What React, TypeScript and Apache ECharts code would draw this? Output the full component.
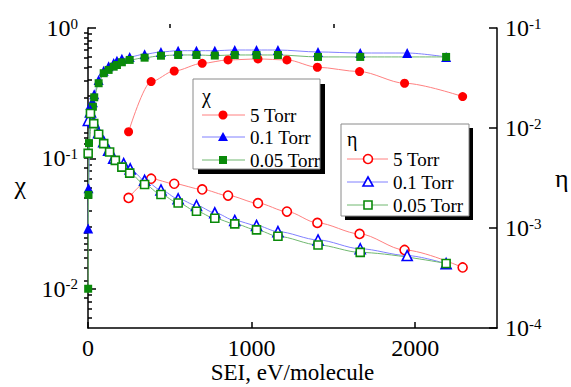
import React, { useEffect, useRef } from "react";
import * as echarts from "echarts";

// ---- data (SEI in eV/molecule) ----
const X_5TORR = [248, 386, 527, 698, 856, 1039, 1216, 1402, 1660, 1935, 2290];
const CHI_5TORR = [0.16, 0.388, 0.468, 0.536, 0.569, 0.579, 0.569, 0.5, 0.463, 0.377, 0.298];
const ETA_5TORR = [0.002, 0.00311, 0.00277, 0.00243, 0.00211, 0.00177, 0.00146, 0.001125, 0.000873, 0.000603, 0.000403];

const X_CHI_01 = [1, 3, 15, 30, 38, 65, 96, 126, 157, 177, 207, 255, 346, 446, 551, 663, 775, 897, 1030, 1161, 1406, 1664, 1951, 2189];
const CHI_01 = [0.029, 0.059, 0.257, 0.27, 0.31, 0.4, 0.47, 0.51, 0.54, 0.56, 0.58, 0.6, 0.63, 0.655, 0.67, 0.67, 0.67, 0.678, 0.678, 0.678, 0.655, 0.643, 0.643, 0.6];

const X_CHI_005 = [1, 3, 6, 30, 38, 65, 96, 126, 157, 177, 207, 255, 346, 446, 551, 663, 775, 897, 1030, 1161, 1406, 1664, 2189];
const CHI_005 = [0.01, 0.0525, 0.131, 0.249, 0.294, 0.377, 0.45, 0.477, 0.505, 0.52, 0.546, 0.569, 0.592, 0.613, 0.621, 0.621, 0.615, 0.621, 0.621, 0.621, 0.6, 0.6, 0.6];

const X_ETA_01 = [2, 15, 35, 65, 96, 126, 157, 218, 258, 346, 446, 551, 663, 775, 897, 1030, 1161, 1406, 1664, 1951, 2189];
const ETA_01 = [0.0119, 0.0145, 0.0115, 0.009, 0.0073, 0.006, 0.005, 0.0044, 0.0039, 0.003, 0.0024, 0.00196, 0.00168, 0.00142, 0.00119, 0.00106, 0.00092, 0.00076, 0.00062, 0.00053, 0.00044];

const X_ETA_005 = [1, 15, 35, 65, 96, 132, 167, 207, 255, 346, 446, 551, 663, 775, 897, 1030, 1161, 1406, 1664, 2189];
const ETA_005 = [0.00557, 0.01394, 0.01107, 0.00865, 0.00698, 0.00575, 0.00474, 0.00406, 0.00354, 0.002725, 0.002163, 0.00178, 0.00147, 0.00125, 0.0011, 0.000957, 0.000826, 0.000677, 0.00057, 0.000442];

const X_LABELS = [0, 1000, 2000];
const X_MINOR = [500, 1500];
const X_MIN = 0;
const X_MAX = 2500;
const CHI_MIN = 0.005;
const CHI_MAX = 1;
const ETA_MIN = 0.0001;
const ETA_MAX = 0.1;
const CHI_DECADES = [-2, -1, 0];
const ETA_DECADES = [-4, -3, -2, -1];

const FONT = "'Liberation Serif', 'Times New Roman', 'DejaVu Serif', serif";
const RED = "#ff0000";
const BLUE = "#0000ff";
const GREEN = "#0a8a0a";
const RED_LINE = "#ff8080";
const BLUE_LINE = "#8080ff";
const GREEN_LINE = "#70b870";

function minorTicks(min: number, max: number): number[] {
  const lo = Math.log10(min);
  const hi = Math.log10(max);
  const out: number[] = [];
  for (let d = Math.floor(lo); d < Math.ceil(hi); d++) {
    for (let k = 2; k <= 9; k++) {
      const v = d + Math.log10(k);
      if (v > lo + 1e-9 && v < hi - 1e-9) out.push(v);
    }
  }
  return out;
}

const pairs = (xs: number[], ys: number[]) => xs.map((x, i) => [x, Math.log10(ys[i])]);

export default function App() {
  const ref = useRef<HTMLDivElement>(null);
  useEffect(() => {
    document.body.style.margin = "0";
    if (!ref.current) return;
    const chart = echarts.init(ref.current, undefined, { renderer: "svg" });
    const black = { color: "#000", width: 1.5 };
    const rich = {
      b: { fontSize: 24, fontFamily: FONT, color: "#000", lineHeight: 24 },
      s: { fontSize: 15, fontFamily: FONT, color: "#000", lineHeight: 14, verticalAlign: "top" },
    };
    const powFmt = (v: number) => `{b|10}{s|${Math.round(v)}}`;

    const lineSeries = (
      name: string,
      data: number[][],
      yAxisIndex: number,
      symbol: string,
      size: number,
      color: string,
      lineColor: string,
      open: boolean
    ) => ({
      type: "line",
      name,
      data,
      yAxisIndex,
      xAxisIndex: 0,
      symbol,
      symbolSize: size,
      showAllSymbol: true,
      smooth: 0.3,
      smoothMonotone: "x",
      lineStyle: { color: lineColor, width: 1 },
      itemStyle: open
        ? { color: "#fff", borderColor: color, borderWidth: 1.6 }
        : { color, borderColor: color, borderWidth: 0 },
      emphasis: { disabled: true },
      z: 3,
    });

    const legendRow = (
      y: number,
      x0: number,
      x1: number,
      mx: number,
      tx: number,
      kind: string,
      color: string,
      lineColor: string,
      open: boolean,
      label: string
    ) => {
      const fill = open ? "#fff" : color;
      const st = { fill, stroke: color, lineWidth: open ? 1.6 : 0 };
      let marker: any;
      if (kind === "circle") marker = { type: "circle", shape: { cx: mx, cy: y, r: 4.5 }, style: st };
      else if (kind === "triangle")
        marker = {
          type: "polygon",
          shape: { points: [[mx, y - 5], [mx + 5, y + 4], [mx - 5, y + 4]] },
          style: st,
        };
      else marker = { type: "rect", shape: { x: mx - 4, y: y - 4, width: 8, height: 8 }, style: st };
      return [
        { type: "line", shape: { x1: x0, y1: y, x2: x1, y2: y }, style: { stroke: lineColor, lineWidth: 1 } },
        marker,
        {
          type: "text",
          x: tx,
          y,
          style: { text: label, fontSize: 19, fontFamily: FONT, fill: "#000", verticalAlign: "middle" },
        },
      ];
    };

    const legendBox = (x: number, y: number, w: number, h: number, sh: number, title: string, tx: number, ty: number) => [
      { type: "rect", shape: { x: x + sh, y: y + sh, width: w, height: h }, style: { fill: "#000" } },
      { type: "rect", shape: { x, y, width: w, height: h }, style: { fill: "#fff", stroke: "#8a8a8a", lineWidth: 1 } },
      {
        type: "text",
        x: tx,
        y: ty,
        style: { text: title, fontSize: 20, fontFamily: FONT, fill: "#000", verticalAlign: "middle" },
      },
    ];

    const graphic = [
      ...legendBox(193, 79, 127, 90, 5, "χ", 202, 96),
      ...legendRow(115, 202, 245, 223, 250, "circle", RED, RED_LINE, false, "5 Torr"),
      ...legendRow(137, 202, 245, 223, 250, "triangle", BLUE, BLUE_LINE, false, "0.1 Torr"),
      ...legendRow(160, 202, 245, 223, 250, "square", GREEN, GREEN_LINE, false, "0.05 Torr"),
      ...legendBox(341, 124, 128, 92, 4, "η", 347, 139),
      ...legendRow(159, 347, 388, 368, 393, "circle", RED, RED_LINE, true, "5 Torr"),
      ...legendRow(182, 347, 388, 368, 393, "triangle", BLUE, BLUE_LINE, true, "0.1 Torr"),
      ...legendRow(205, 347, 388, 368, 393, "square", GREEN, GREEN_LINE, true, "0.05 Torr"),
    ];

    const yBase = (min: number, max: number) => ({
      type: "value",
      min: Math.log10(min),
      max: Math.log10(max),
      splitLine: { show: false },
    });

    chart.setOption({
      animation: false,
      backgroundColor: "#fff",
      textStyle: { fontFamily: FONT },
      grid: { left: 88, top: 28, width: 409, height: 300, containLabel: false, outerBoundsMode: "none" },
      xAxis: [
        {
          type: "value",
          min: X_MIN,
          max: X_MAX,
          position: "bottom",
          axisLine: { show: true, onZero: false, lineStyle: black },
          axisTick: { show: true, inside: true, length: 6, customValues: X_LABELS, lineStyle: black },
          axisLabel: {
            customValues: X_LABELS,
            fontSize: 24,
            fontFamily: FONT,
            color: "#000",
            margin: 8,
            formatter: (v: number) => String(v),
          },
          splitLine: { show: false },
          name: "SEI, eV/molecule",
          nameLocation: "middle",
          nameGap: 33,
          nameMoveOverlap: false,
          nameTextStyle: { fontSize: 23, fontFamily: FONT, color: "#000", lineHeight: 23 },
        },
        {
          type: "value",
          min: X_MIN,
          max: X_MAX,
          position: "bottom",
          axisLine: { show: false },
          axisTick: { show: true, inside: true, length: 4, customValues: X_MINOR, lineStyle: black },
          axisLabel: { show: false },
          splitLine: { show: false },
        },
      ],
      yAxis: [
        {
          ...yBase(CHI_MIN, CHI_MAX),
          position: "left",
          axisLine: { show: true, onZero: false, lineStyle: black },
          axisTick: { show: true, inside: true, length: 8, customValues: CHI_DECADES, lineStyle: black },
          axisLabel: { customValues: CHI_DECADES, formatter: powFmt, rich, margin: 10 },
          name: "χ",
          nameLocation: "middle",
          nameRotate: 0,
          nameGap: 62,
          nameTextStyle: { fontSize: 26, fontFamily: FONT, color: "#000", verticalAlign: "top", lineHeight: 14 },
        },
        {
          ...yBase(CHI_MIN, CHI_MAX),
          position: "left",
          axisLine: { show: false },
          axisTick: { show: true, inside: true, length: 4, customValues: minorTicks(CHI_MIN, CHI_MAX), lineStyle: black },
          axisLabel: { show: false },
        },
        {
          ...yBase(ETA_MIN, ETA_MAX),
          position: "right",
          axisLine: { show: true, onZero: false, lineStyle: black },
          axisTick: { show: true, inside: true, length: 8, customValues: ETA_DECADES, lineStyle: black },
          axisLabel: { customValues: ETA_DECADES, formatter: powFmt, rich, margin: 8 },
          name: "η",
          nameLocation: "middle",
          nameRotate: 0,
          nameGap: 58,
          nameTextStyle: { fontSize: 26, fontFamily: FONT, color: "#000" },
        },
        {
          ...yBase(ETA_MIN, ETA_MAX),
          position: "right",
          axisLine: { show: false },
          axisTick: { show: true, inside: true, length: 4, customValues: minorTicks(ETA_MIN, ETA_MAX), lineStyle: black },
          axisLabel: { show: false },
        },
      ],
      series: [
        lineSeries("χ 5 Torr", pairs(X_5TORR, CHI_5TORR), 0, "circle", 9, RED, RED_LINE, false),
        lineSeries("χ 0.1 Torr", pairs(X_CHI_01, CHI_01), 0, "triangle", 10, BLUE, BLUE_LINE, false),
        lineSeries("χ 0.05 Torr", pairs(X_CHI_005, CHI_005), 0, "rect", 8, GREEN, GREEN_LINE, false),
        lineSeries("η 5 Torr", pairs(X_5TORR, ETA_5TORR), 2, "circle", 9, RED, RED_LINE, true),
        lineSeries("η 0.1 Torr", pairs(X_ETA_01, ETA_01), 2, "triangle", 10, BLUE, BLUE_LINE, true),
        lineSeries("η 0.05 Torr", pairs(X_ETA_005, ETA_005), 2, "rect", 8, GREEN, GREEN_LINE, true),
      ],
      graphic,
    });
    return () => chart.dispose();
  }, []);
  return <div ref={ref} style={{ width: 571, height: 387 }} />;
}
